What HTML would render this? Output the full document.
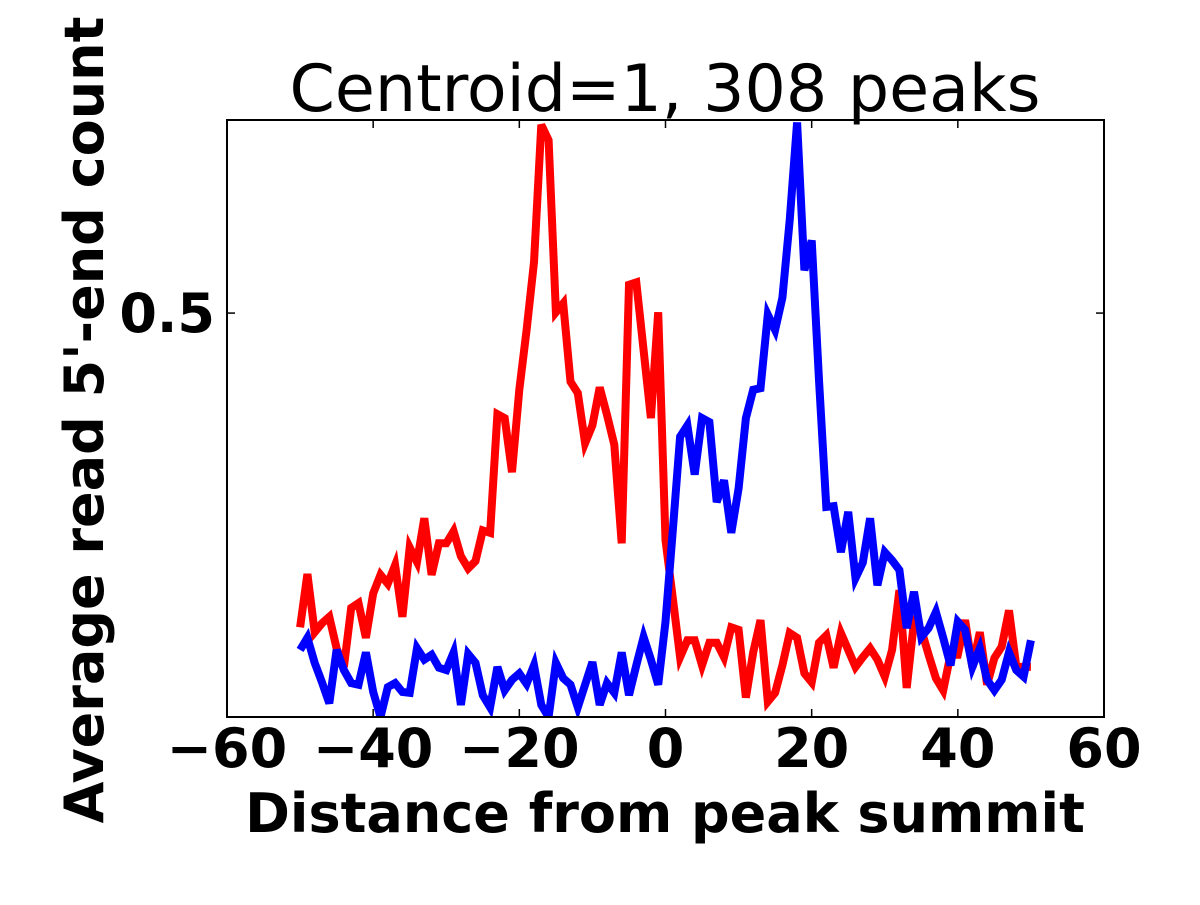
<!DOCTYPE html>
<html><head><meta charset="utf-8"><style>
body{margin:0;background:#fff}
svg text{font-family:"DejaVu Sans","Liberation Sans",sans-serif}
</style></head><body>
<svg id="chart" width="1200" height="900" xmlns="http://www.w3.org/2000/svg">
<rect width="1200" height="900" fill="#fff"/>
<defs><clipPath id="clip"><rect x="227" y="120" width="877" height="597"/></clipPath></defs>
<text x="665" y="111" font-size="65" text-anchor="middle">Centroid=1, 308 peaks</text>
<g id="series" clip-path="url(#clip)"></g>
<rect x="227" y="120" width="877" height="597" fill="none" stroke="#000" stroke-width="2"/>
<g id="ticks"></g>
<text x="665" y="832" font-size="54" font-weight="bold" text-anchor="middle">Distance from peak summit</text>
<text transform="translate(103,420) rotate(-90)" font-size="54" font-weight="bold" text-anchor="middle">Average read 5'-end count</text>
</svg>
<script>
const xs = [];
for (let i = -50; i <= 50; i++) xs.push(i);
const redValues = [0.111,0.177,0.105,0.116,0.124,0.085,0.062,0.135,0.141,0.098,0.153,0.176,0.165,0.188,0.124,0.210,0.192,0.246,0.176,0.215,0.215,0.230,0.199,0.184,0.193,0.231,0.228,0.375,0.370,0.303,0.405,0.479,0.563,0.733,0.714,0.501,0.512,0.415,0.401,0.339,0.361,0.408,0.374,0.337,0.215,0.535,0.538,0.454,0.370,0.501,0.219,0.147,0.074,0.095,0.095,0.064,0.092,0.092,0.074,0.111,0.108,0.024,0.080,0.120,0.019,0.030,0.064,0.104,0.098,0.054,0.043,0.092,0.101,0.061,0.104,0.083,0.062,0.074,0.085,0.071,0.050,0.083,0.157,0.036,0.118,0.108,0.077,0.048,0.033,0.077,0.077,0.120,0.061,0.105,0.040,0.073,0.087,0.132,0.062,0.062,0.062];
const blueValues = [0.083,0.098,0.067,0.043,0.017,0.083,0.058,0.042,0.040,0.080,0.031,0.0,0.037,0.042,0.031,0.030,0.085,0.071,0.077,0.061,0.058,0.080,0.015,0.078,0.067,0.027,0.012,0.062,0.033,0.046,0.054,0.041,0.064,0.015,0.0,0.067,0.048,0.040,0.012,0.040,0.068,0.015,0.042,0.030,0.080,0.027,0.064,0.099,0.071,0.040,0.118,0.231,0.347,0.361,0.300,0.370,0.365,0.266,0.293,0.228,0.283,0.370,0.405,0.407,0.498,0.479,0.519,0.615,0.736,0.553,0.590,0.417,0.260,0.261,0.204,0.254,0.172,0.191,0.246,0.163,0.204,0.194,0.182,0.110,0.155,0.099,0.110,0.130,0.098,0.064,0.118,0.108,0.062,0.085,0.046,0.033,0.046,0.080,0.058,0.050,0.095];
const xTicks = [-60,-40,-20,0,20,40,60];
const xTickLabels = ["\u221260","\u221240","\u221220","0","20","40","60"];
const yTicks = [0.5];
const yTickLabels = ["0.5"];
const xMin=-60,xMax=60,yMin=0,yMax=0.739;
const L=227,R=1104,T=120,B=717;
const sx=v=>L+(v-xMin)/(xMax-xMin)*(R-L);
const sy=v=>B-(v-yMin)/(yMax-yMin)*(B-T);
const NS="http://www.w3.org/2000/svg";
const g=document.getElementById('series');
function line(vals,color,name){
  const p=document.createElementNS(NS,'polyline');
  p.setAttribute('points',vals.map((v,i)=>sx(xs[i]).toFixed(1)+','+sy(v).toFixed(1)).join(' '));
  p.setAttribute('fill','none');p.setAttribute('stroke',color);p.setAttribute('stroke-width','8');
  p.setAttribute('stroke-linejoin','miter');
  
  
  g.appendChild(p);
}
line(redValues,'#ff0000','red-series-line');
line(blueValues,'#0000ff','blue-series-line');
const tg=document.getElementById('ticks');
xTicks.forEach((t,i)=>{
  const x=sx(t);
  [[B,B-8],[T,T+8]].forEach(([a,b])=>{
    const l=document.createElementNS(NS,'line');
    l.setAttribute('x1',x);l.setAttribute('x2',x);l.setAttribute('y1',a);l.setAttribute('y2',b);
    l.setAttribute('stroke','#000');l.setAttribute('stroke-width','1.5');
    
    
    tg.appendChild(l);
  });
  const tx=document.createElementNS(NS,'text');
  tx.setAttribute('x',x);tx.setAttribute('y',767);tx.setAttribute('font-size','54');
  tx.setAttribute('font-weight','bold');tx.setAttribute('text-anchor','middle');
  tx.textContent=xTickLabels[i];
  
  
  tg.appendChild(tx);
});
yTicks.forEach((t,i)=>{
  const y=sy(t);
  [[L,L+8],[R,R-8]].forEach(([a,b])=>{
    const l=document.createElementNS(NS,'line');
    l.setAttribute('x1',a);l.setAttribute('x2',b);l.setAttribute('y1',y);l.setAttribute('y2',y);
    l.setAttribute('stroke','#000');l.setAttribute('stroke-width','1.5');
    
    
    tg.appendChild(l);
  });
  const tx=document.createElementNS(NS,'text');
  tx.setAttribute('x',215);tx.setAttribute('y',y+19);tx.setAttribute('font-size','54');
  tx.setAttribute('font-weight','bold');tx.setAttribute('text-anchor','end');
  tx.textContent=yTickLabels[i];
  
  
  tg.appendChild(tx);
});
</script>
</body></html>
